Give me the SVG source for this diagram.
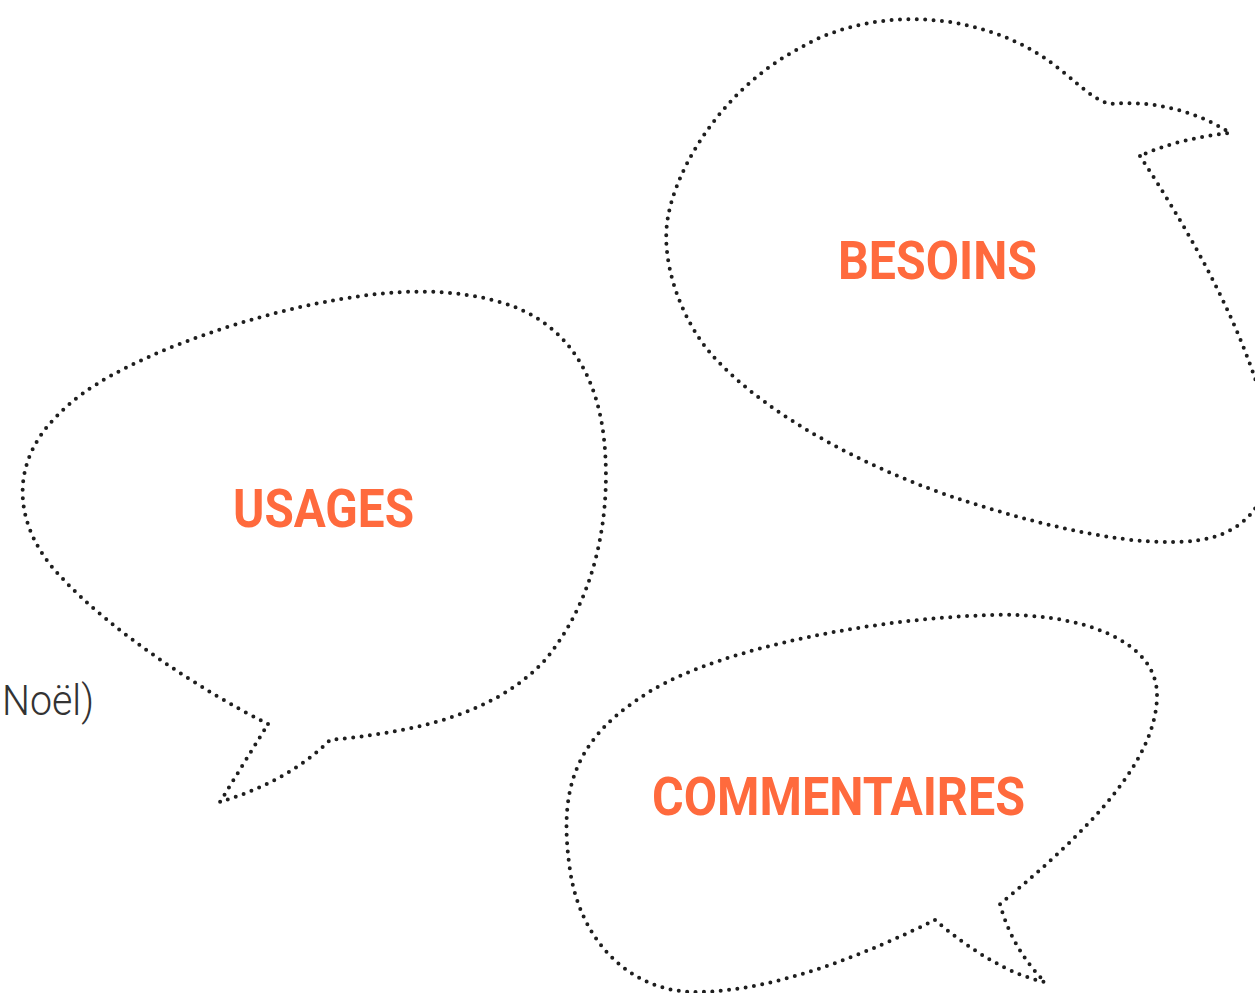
<svg xmlns="http://www.w3.org/2000/svg" width="1255" height="993" viewBox="0 0 1255 993">
  <style>
    .bubble { fill: none; stroke: #1e1e1e; stroke-width: 4; stroke-linecap: round; stroke-linejoin: round; stroke-dasharray: 0 8.4; }
    .label { font-family: Roboto, "Liberation Sans", sans-serif; font-weight: 700; font-size: 53px; fill: #FF6A3D; }
    .side { font-family: Roboto, "Liberation Sans", sans-serif; font-weight: 300; font-size: 42px; fill: #333; }
  </style>
  <rect width="1255" height="993" fill="#fff"/>
  <g id="connectors"></g>
  <g id="usages">
    <path class="bubble" d="M 268 724 C 200 690, 110 630, 62 578 C 15 530, 5 465, 60 413 C 110 360, 250 315, 330 301 C 380 292, 440 285, 500 302 C 570 322, 600 380, 605 450 C 610 520, 595 600, 545 660 C 490 720, 400 733, 330 740 C 300 770, 260 790, 220 802 L 268 724 Z"/>
    <text class="label" x="233" y="527" textLength="181" lengthAdjust="spacingAndGlyphs">USAGES</text>
  </g>
  <g id="besoins">
    <path class="bubble" d="M 1140 156 C 1185 225, 1235 310, 1262 400 C 1285 470, 1265 530, 1200 540 C 1140 549, 1050 528, 965 501 C 880 474, 770 420, 712 355 C 680 318, 660 260, 668 217 C 676 170, 720 90, 800 48 C 860 12, 960 5, 1040 55 C 1070 74, 1090 100, 1111 104 C 1150 100, 1195 110, 1230 133 C 1200 136, 1165 144, 1140 156 Z"/>
    <text class="label" x="838" y="279" textLength="199" lengthAdjust="spacingAndGlyphs">BESOINS</text>
  </g>
  <g id="commentaires">
    <path class="bubble" d="M 935 920 C 870 952, 780 990, 700 992 C 630 994, 580 940, 570 870 C 560 800, 568 745, 640 698 C 700 655, 850 620, 990 615 C 1080 612, 1157 640, 1157 695 C 1157 760, 1090 830, 1000 904 C 1008 935, 1025 962, 1045 982 C 1010 975, 970 950, 935 920 Z"/>
    <text class="label" x="652" y="815" textLength="373" lengthAdjust="spacingAndGlyphs">COMMENTAIRES</text>
  </g>
  <g id="side-text">
    <text class="side" x="2" y="715" textLength="92" lengthAdjust="spacingAndGlyphs">Noël)</text>
  </g>
</svg>
